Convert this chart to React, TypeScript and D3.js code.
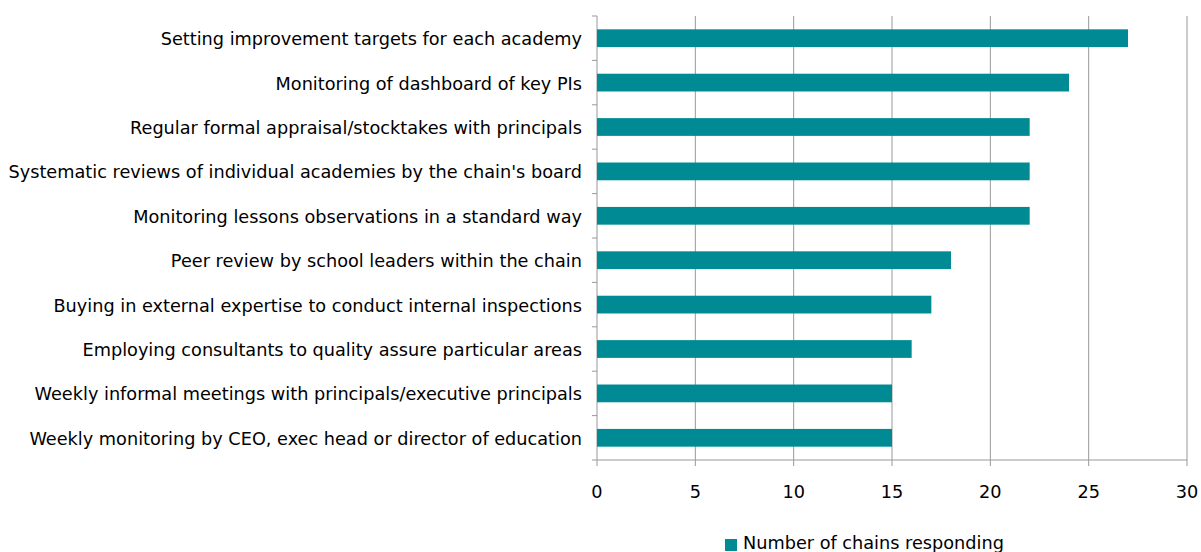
import React from "react";
import * as d3 from "d3";

const categories = [
  "Setting improvement targets for each academy",
  "Monitoring of dashboard of key PIs",
  "Regular formal appraisal/stocktakes with principals",
  "Systematic reviews of individual academies by the chain's board",
  "Monitoring lessons observations in a standard way",
  "Peer review by school leaders within the chain",
  "Buying in external expertise to conduct internal inspections",
  "Employing consultants to quality assure particular areas",
  "Weekly informal meetings with principals/executive principals",
  "Weekly monitoring by CEO, exec head or director of education",
];
const values = [27, 24, 22, 22, 22, 18, 17, 16, 15, 15];
const xTicks = [0, 5, 10, 15, 20, 25, 30];
const seriesName = "Number of chains responding";

const W = 1201, H = 552;
const left = 597, right = 1187, top = 16, bottom = 460;
const color = "#008b94";
const font = "'DejaVu Sans', Verdana, sans-serif";
const fs = 17.7;

export default function App() {
  const x = d3.scaleLinear().domain([0, 30]).range([left, right]);
  const y = d3.scaleBand().domain(categories).range([top, bottom]).paddingInner(0.6).paddingOuter(0.3);
  const band = (bottom - top) / categories.length;
  return (
    <svg width={W} height={H} style={{ position: "absolute", left: 0, top: 0 }} fontFamily={font}>
      {xTicks.map((t) => (
        <g key={t}>
          <line x1={x(t)} x2={x(t)} y1={top} y2={bottom + 6} stroke="#999" strokeWidth={1} />
          <text x={x(t)} y={bottom + 38} textAnchor="middle" fontSize={fs} fill="#000">{t}</text>
        </g>
      ))}
      {d3.range(categories.length + 1).map((i) => (
        <line key={i} x1={left - 5} x2={left} y1={top + i * band} y2={top + i * band} stroke="#999" />
      ))}
      <line x1={left} x2={right} y1={bottom} y2={bottom} stroke="#999" />
      {categories.map((c, i) => (
        <g key={c}>
          <rect x={x(0)} y={y(c)!} width={x(values[i]) - x(0)} height={y.bandwidth()} fill={color} />
          <text x={582} y={y(c)! + y.bandwidth() / 2 + 1} dominantBaseline="central" textAnchor="end" fontSize={fs} fill="#000">{c}</text>
        </g>
      ))}
      <rect x={725} y={539} width={12} height={12} fill={color} />
      <text x={743} y={549} fontSize={fs} fill="#000">{seriesName}</text>
    </svg>
  );
}
